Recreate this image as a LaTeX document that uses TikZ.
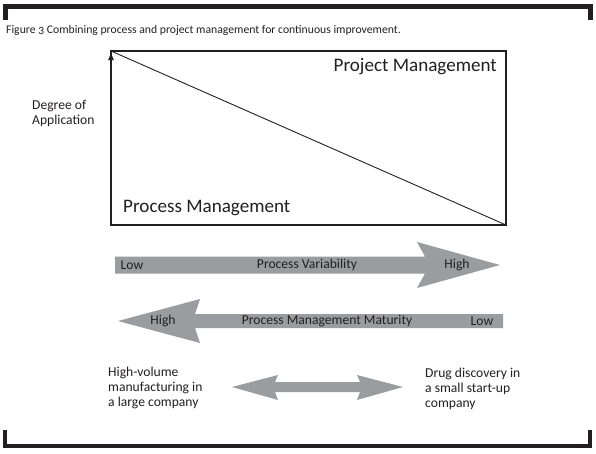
\documentclass[tikz,border=0pt]{standalone}
\usepackage{fontspec}
\setmainfont{Carlito}
\newfontfamily\capfont[Numbers=OldStyle]{Carlito}
\usetikzlibrary{arrows.meta}
\definecolor{arrowgray}{RGB}{154,156,159}
\definecolor{textdark}{RGB}{35,31,32}
\tikzset{
  bigarrow/.style={fill=arrowgray, draw=none},
  frameline/.style={line width=5pt, color=textdark, line join=miter},
  lbl/.style={inner sep=0pt, text=textdark, font=\fontsize{13.6}{15}\selectfont},
  bigtitle/.style={inner sep=0pt, text=textdark, font=\fontsize{19.1}{21}\selectfont}
}
\begin{document}
\begin{tikzpicture}[x=1pt,y=-1pt]
	  \useasboundingbox (0,0) rectangle (596,453);
	  % frame brackets
	  \draw [frameline] (5.5,20) -- (5.5,6.5) -- (590,6.5) -- (590,20);
	  \draw [frameline, line width=4pt] (5,430) -- (5,446) -- (590,446) -- (590,430);
	  \node [inner sep=0pt, anchor=base west, text=textdark, font=\capfont\fontsize{11.7}{13}\selectfont] at (6,33) (cap) {Figure 3 Combining process and project management for continuous improvement.};
	  % chart box
	  \coordinate (tl) at (111,51);
	  \coordinate (br) at (506,225);
	  \coordinate (bl) at (111,225);
	  \draw [line width=1.2pt, color=textdark] (tl) rectangle (br);
	  \draw [line width=0.9pt, color=textdark] (tl) -- (br);
	  \draw [line width=2pt, color=textdark, -{Latex[length=9pt,width=6pt]}] (bl) -- (tl);
	  \node [bigtitle, anchor=base east] at (497,71) (pjm) {Project Management};
	  \node [bigtitle, anchor=base west] at (123,212) (psm) {Process Management};
	  \node [lbl, align=left, anchor=west] at (32,113) (dga) {Degree of\\Application};
	  % grey arrows
	  \fill [bigarrow] (115,256.5) -- (425,256.5) -- (417,242) -- (500,265) -- (417,288) -- (425,273.5) -- (115,273.5) -- cycle;
	  \fill [bigarrow] (503,314) -- (195,314) -- (200,299) -- (118,321) -- (200,343) -- (195,328) -- (503,328) -- cycle;
	  \fill [bigarrow] (232,387) -- (278,375) -- (275,382) -- (360,382) -- (357,375) -- (403,387) -- (357,400) -- (360,392) -- (275,392) -- (278,400) -- cycle;
	  \foreach \x/\t/\n in {132/Low/vl, 307/Process Variability/vm, 457/High/vh}{
	  	\node [lbl] at (\x,265) (\n) {\t};
	  }
	  \foreach \x/\t/\n in {163/High/mh, 327/Process Management Maturity/mm, 482/Low/ml}{
	  	\node [lbl] at (\x,321) (\n) {\t};
	  }
	  \node [lbl, align=left, anchor=west] at (108,388) (hv) {High-volume\\manufacturing in\\a large company};
	  \node [lbl, align=left, anchor=west] at (425,389) (dd) {Drug discovery in\\a small start-up\\company};
	\end{tikzpicture}
\end{document}
